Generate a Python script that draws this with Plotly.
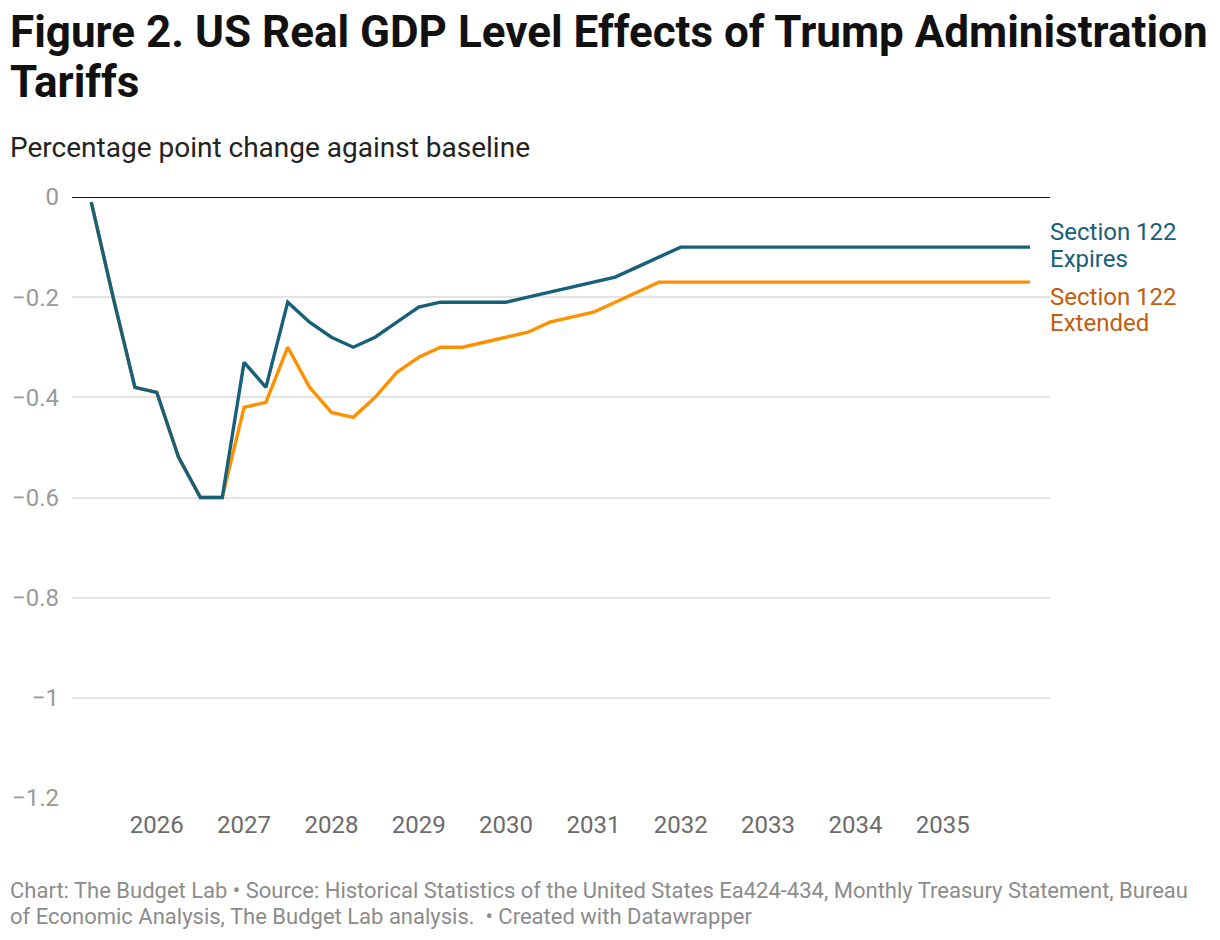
import plotly.graph_objects as go

# Quarterly periods 2025Q1 .. 2035Q4 (x as year-fraction at quarter end)
quarters = [f"{y}Q{q}" for y in range(2025, 2036) for q in range(1, 5)]
x_vals = [2025 + 0.25 * (i + 1) for i in range(len(quarters))]

expires = [-0.01, -0.20, -0.38, -0.39, -0.52, -0.60, -0.60, -0.33, -0.38, -0.21,
           -0.25, -0.28, -0.30, -0.28, -0.25, -0.22, -0.21, -0.21, -0.21, -0.21,
           -0.20, -0.19, -0.18, -0.17, -0.16, -0.14, -0.12, -0.10, -0.10, -0.10,
           -0.10, -0.10, -0.10, -0.10, -0.10, -0.10, -0.10, -0.10, -0.10, -0.10,
           -0.10, -0.10, -0.10, -0.10]
extended = [-0.01, -0.20, -0.38, -0.39, -0.52, -0.60, -0.60, -0.42, -0.41, -0.30,
            -0.38, -0.43, -0.44, -0.40, -0.35, -0.32, -0.30, -0.30, -0.29, -0.28,
            -0.27, -0.25, -0.24, -0.23, -0.21, -0.19, -0.17, -0.17, -0.17, -0.17,
            -0.17, -0.17, -0.17, -0.17, -0.17, -0.17, -0.17, -0.17, -0.17, -0.17,
            -0.17, -0.17, -0.17, -0.17]

x_ticks = list(range(2026, 2036))
x_tick_labels = [str(y) for y in x_ticks]
y_ticks = [0, -0.2, -0.4, -0.6, -0.8, -1.0, -1.2]

title_lines = ["Figure 2. US Real GDP Level Effects of Trump Administration", "Tariffs"]
subtitle = "Percentage point change against baseline"
footer_lines = [
    "Chart: The Budget Lab • Source: Historical Statistics of the United States Ea424-434, "
    "Monthly Treasury Statement, Bureau",
    "of Economic Analysis, The Budget Lab analysis.  • Created with Datawrapper",
]
label_expires = ["Section 122", "Expires"]
label_extended = ["Section 122", "Extended"]

BLUE = "#17607a"
ORANGE = "#ff9000"
ORANGE_TXT = "#c45c0a"
FONT = "Roboto"

fig = go.Figure()
fig.add_trace(go.Scatter(x=x_vals, y=extended, mode="lines", name="Section 122 Extended",
                         line=dict(color=ORANGE, width=3.4), hoverinfo="skip"))
fig.add_trace(go.Scatter(x=x_vals, y=expires, mode="lines", name="Section 122 Expires",
                         line=dict(color=BLUE, width=3.4), hoverinfo="skip"))

fig.add_shape(type="line", xref="paper", yref="y", x0=0, x1=1, y0=0, y1=0,
              line=dict(color="#111111", width=2), layer="below")

fig.update_layout(
    width=1220, height=940,
    margin=dict(l=70, r=170, t=197, b=142),
    paper_bgcolor="white", plot_bgcolor="white",
    showlegend=False,
    font=dict(family=FONT),
    xaxis=dict(range=[2025.0295, 2036.2285], tickvals=x_ticks, ticktext=x_tick_labels,
               showgrid=False, zeroline=False, showline=False, ticks="",
               tickfont=dict(size=24, color="#6b6b6b", family=FONT),
               ticklabelstandoff=10, fixedrange=True),
    yaxis=dict(range=[-1.2, 0], tickvals=y_ticks, showgrid=True, gridcolor="#e3e3e3",
               gridwidth=1.5, zeroline=False, showline=False, ticks="",
               tickfont=dict(size=24, color="#9a9a9a", family=FONT),
               ticklabelstandoff=12, fixedrange=True),
)

def px_x(p):
    return (p - 70) / 980.0

def px_y(p):
    return (798 - p) / 601.0

def text_line(txt, left, baseline, size, color, bold=False):
    top = baseline - 1.0 * size
    fig.add_annotation(xref="paper", yref="paper", x=px_x(left), y=px_y(top),
                       xanchor="left", yanchor="top", showarrow=False, align="left",
                       text=f"<b>{txt}</b>" if bold else txt,
                       font=dict(size=size, color=color, family=FONT))

text_line(title_lines[0], 6, 48, 44, "#111111", bold=True)
text_line(title_lines[1], 6, 98, 44, "#111111", bold=True)
text_line(subtitle, 6, 157, 28, "#222222")
text_line(footer_lines[0], 6, 898, 22, "#8c8c8c")
text_line(footer_lines[1], 6, 924, 22, "#8c8c8c")

# Series labels (two lines each, anchored to each series' last point)
def series_label(lines, yv, color, shifts):
    for txt, sh in zip(lines, shifts):
        fig.add_annotation(x=x_vals[-1], y=yv, xref="x", yref="y", xanchor="left", yanchor="middle",
                           xshift=18, yshift=sh, text=txt, showarrow=False, align="left",
                           font=dict(size=24, color=color, family=FONT))

series_label(label_expires, expires[-1], BLUE, [15, -12])
series_label(label_extended, extended[-1], ORANGE_TXT, [-14.5, -41])

fig.write_html("out.html")
